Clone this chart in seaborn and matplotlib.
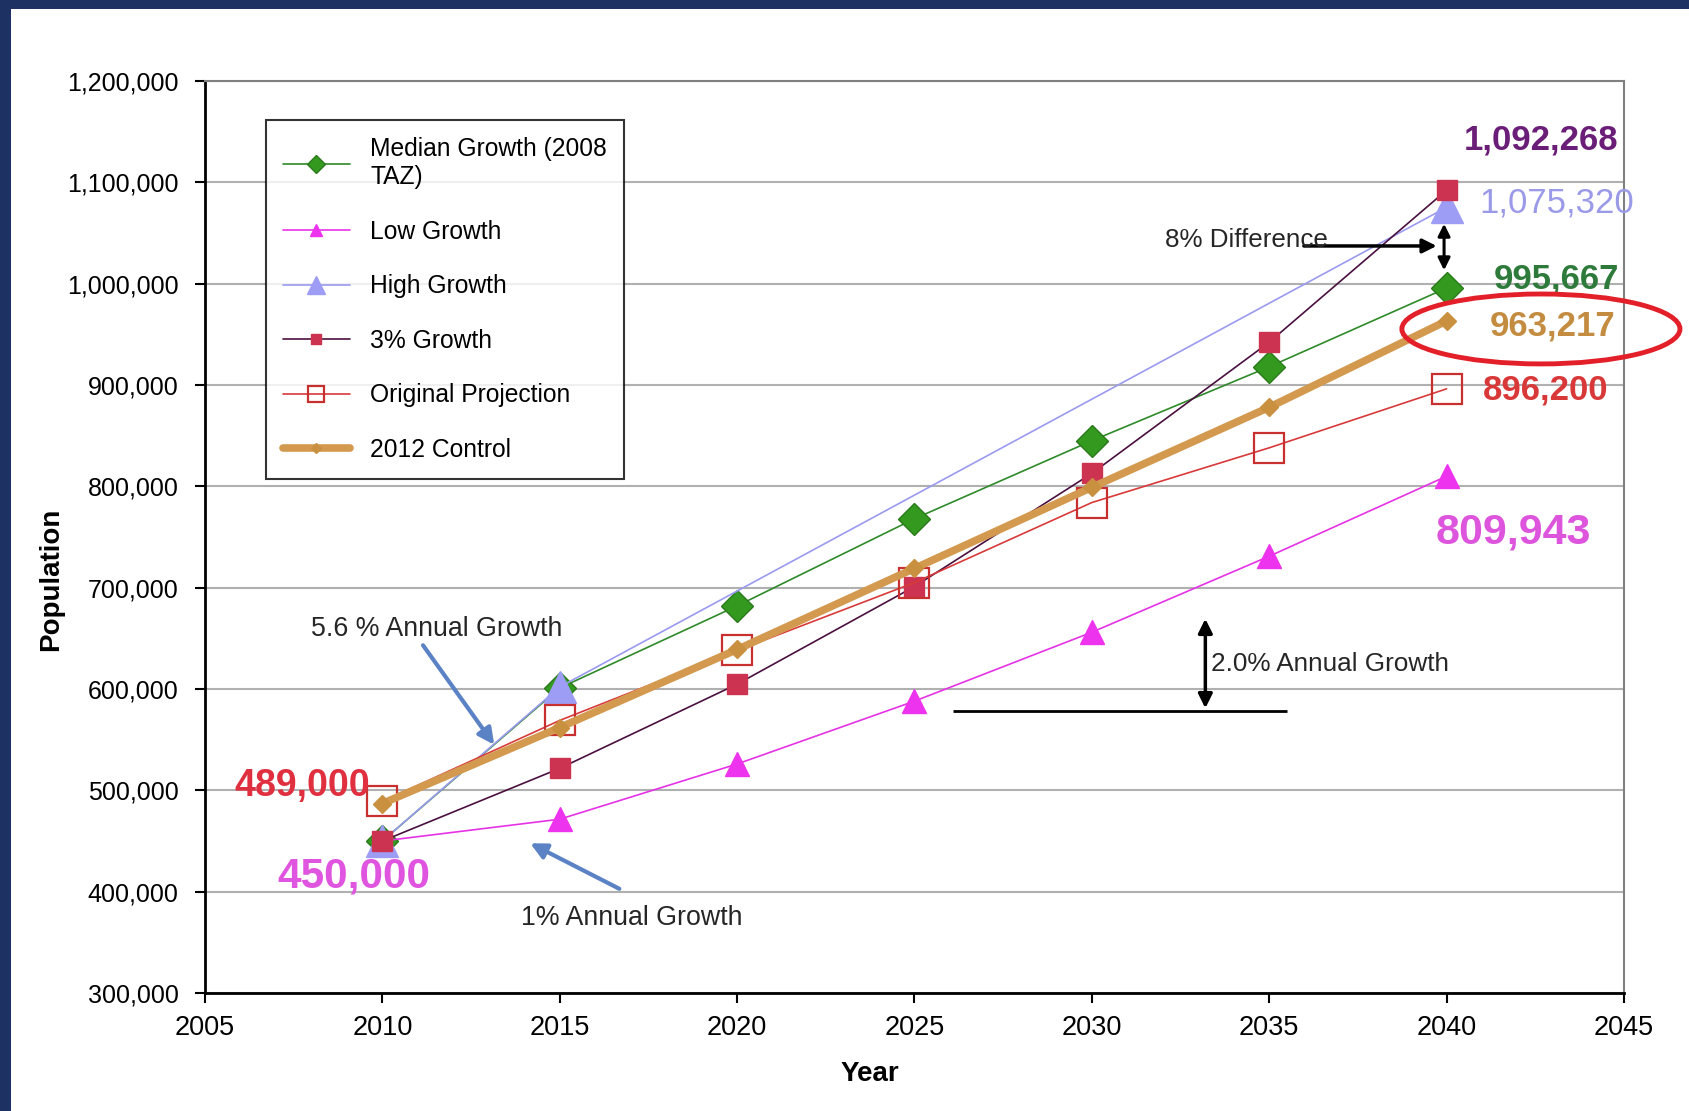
import numpy as np
import pandas as pd
import matplotlib
matplotlib.use('Agg')
import matplotlib.pyplot as plt
from matplotlib.patches import Ellipse, Rectangle
import seaborn as sns

# ---- data ----
years = [2010, 2015, 2020, 2025, 2030, 2035, 2040]
median_growth = [450000, 601000, 682000, 768000, 845000, 918000, 995667]
low_growth = [450000, 471500, 526000, 588000, 656000, 731000, 809943]
high_years = [2010, 2015, 2040]
high_growth = [450000, 602000, 1075320]
growth_3pct = [450000, 521673, 604762, 701083, 812747, 942195, 1092268]
original_proj = [489000, 569000, 638000, 705000, 784000, 838000, 896200]
control_2012 = [487000, 562000, 639000, 719000, 799000, 878000, 963217]

y_ticks = [300000, 400000, 500000, 600000, 700000, 800000, 900000,
           1000000, 1100000, 1200000]
x_ticks = [2005, 2010, 2015, 2020, 2025, 2030, 2035, 2040, 2045]

sns.set_theme(style="white")
plt.rcParams['font.family'] = ['Liberation Sans', 'DejaVu Sans']

fig = plt.figure(figsize=(16.9, 11.11), dpi=100, facecolor='#1d3263')
fig.patches.append(Rectangle((11 / 1690, 0), 1, 1 - 9 / 1111, transform=fig.transFigure,
                             facecolor='white', edgecolor='none', zorder=-5))
ax = fig.add_axes([0.1213, 0.1062, 0.8396, 0.8209])
ax.set_facecolor('white')

series = [
    dict(x=years, y=median_growth, label='Median Growth (2008\nTAZ)', color='#2f8a2a',
         marker='D', markersize=16, markerfacecolor='#339a1f', markeredgecolor='#2a7a1a', linewidth=1.2),
    dict(x=years, y=low_growth, label='Low Growth', color='#e632e6',
         marker='^', markersize=17, markerfacecolor='#ee33ee', markeredgecolor='#ee33ee', linewidth=1.2),
    dict(x=high_years, y=high_growth, label='High Growth', color='#9a9af0',
         marker='^', markersize=23, markerfacecolor='#9d9df5', markeredgecolor='#9d9df5', linewidth=1.2),
    dict(x=years, y=growth_3pct, label='3% Growth', color='#4a1040',
         marker='s', markersize=14, markerfacecolor='#cc3350', markeredgecolor='#cc3350', linewidth=1.2),
    dict(x=years, y=original_proj, label='Original Projection', color='#d83a3a',
         marker='s', markersize=22, markerfacecolor='none', markeredgecolor='#c83030',
         markeredgewidth=1.6, linewidth=1.2),
    dict(x=years, y=control_2012, label='2012 Control', color='#d39a4f',
         marker='D', markersize=9, markerfacecolor='#c99040', markeredgecolor='#c99040', linewidth=5.5),
]

for s in series:
    kw = dict(s)
    x = kw.pop('x')
    y = kw.pop('y')
    kw.setdefault('markeredgewidth', 1)
    sns.lineplot(x=x, y=y, ax=ax, **kw)

ax.set_xlim(2005, 2045)
ax.set_ylim(300000, 1200000)
ax.set_xticks(x_ticks)
ax.set_yticks(y_ticks)
ax.set_yticklabels([f'{v:,}' for v in y_ticks])
ax.tick_params(axis='both', direction='out', length=7, width=1.5, color='black',
               labelcolor='black', left=True, bottom=True)
ax.tick_params(axis='y', labelsize=18, pad=12)
ax.tick_params(axis='x', labelsize=19.5, pad=9)
ax.yaxis.grid(True, color='#b0b0b0', linewidth=1.5)
ax.xaxis.grid(False)
for side in ['left', 'bottom']:
    ax.spines[side].set_color('black')
    ax.spines[side].set_linewidth(2)
for side in ['top', 'right']:
    ax.spines[side].set_color('#808080')
    ax.spines[side].set_linewidth(1.5)

ax.set_xlabel('Year', fontsize=20, fontweight='bold', color='black')
ax.set_ylabel('Population', fontsize=20, fontweight='bold', color='black')
ax.xaxis.set_label_coords(0.4685, -0.074)
ax.yaxis.set_label_coords(-0.099, 0.454)

leg = ax.legend(loc='upper left', bbox_to_anchor=(0.043, 0.957), borderaxespad=0,
                fontsize=17.7, frameon=True, fancybox=False, edgecolor='black',
                handlelength=2.7, handletextpad=0.85, labelspacing=1.24, borderpad=0.7,
                markerscale=0.55)
leg.get_frame().set_linewidth(1.5)
for t in leg.get_texts():
    t.set_color('black')

# ---- end-point value labels ----
end_labels = [
    ('1,092,268', 2042.66, 1141800, '#6a1e78', 'bold', 25),
    ('1,075,320', 2043.1, 1079600, '#9a9ae8', 'normal', 25),
    ('995,667', 2043.1, 1004600, '#2e7a3a', 'bold', 25),
    ('963,217', 2043.0, 958700, '#c38c40', 'bold', 25),
    ('896,200', 2042.8, 895000, '#d93838', 'bold', 25),
    ('809,943', 2041.87, 754900, '#dd55dd', 'bold', 31),
    ('489,000', 2007.73, 504300, '#e03040', 'bold', 27),
    ('450,000', 2009.2, 415400, '#e055e0', 'bold', 30.5),
]
for txt, xx, yy, c, w, fs in end_labels:
    ax.text(xx, yy, txt, color=c, fontweight=w, fontsize=fs, ha='center', va='center',
            clip_on=False, zorder=6)

ax.add_patch(Ellipse((2042.66, 955300), 7.84, 69000, fill=False, edgecolor='#e3202a',
                     linewidth=3.5, clip_on=False, zorder=7))

# ---- annotations ----
ax.text(2036.66, 1043000, '8% Difference', fontsize=18.7, ha='right', va='center', zorder=6)
ax.annotate('', xy=(2039.8, 1037200), xytext=(2035.9, 1037200),
            arrowprops=dict(arrowstyle='-|>,head_width=0.35,head_length=0.7', color='black', lw=2.5))
ax.annotate('', xy=(2039.93, 1010500), xytext=(2039.93, 1061800),
            arrowprops=dict(arrowstyle='<|-|>,head_width=0.3,head_length=0.6', color='black', lw=2.2))

ax.text(2008.0, 659200, '5.6 % Annual Growth', fontsize=19.3, ha='left', va='center')
ax.annotate('', xy=(2013.2, 542700), xytext=(2011.1, 645400),
            arrowprops=dict(arrowstyle='-|>,head_width=0.4,head_length=0.8', color='#5b82c4', lw=3))

ax.text(2013.9, 374000, '1% Annual Growth', fontsize=19.3, ha='left', va='center')
ax.annotate('', xy=(2014.1, 449000), xytext=(2016.75, 401600),
            arrowprops=dict(arrowstyle='-|>,head_width=0.4,head_length=0.8', color='#5b82c4', lw=3))

ax.text(2033.35, 624700, '2.0% Annual Growth', fontsize=18.8, ha='left', va='center')
ax.annotate('', xy=(2033.2, 672000), xytext=(2033.2, 578300),
            arrowprops=dict(arrowstyle='<|-|>,head_width=0.35,head_length=0.7', color='black', lw=2.5))
ax.hlines(578300, 2026.1, 2035.5, color='black', linewidth=2)

fig.savefig('out.png', dpi=100, facecolor=fig.get_facecolor())
